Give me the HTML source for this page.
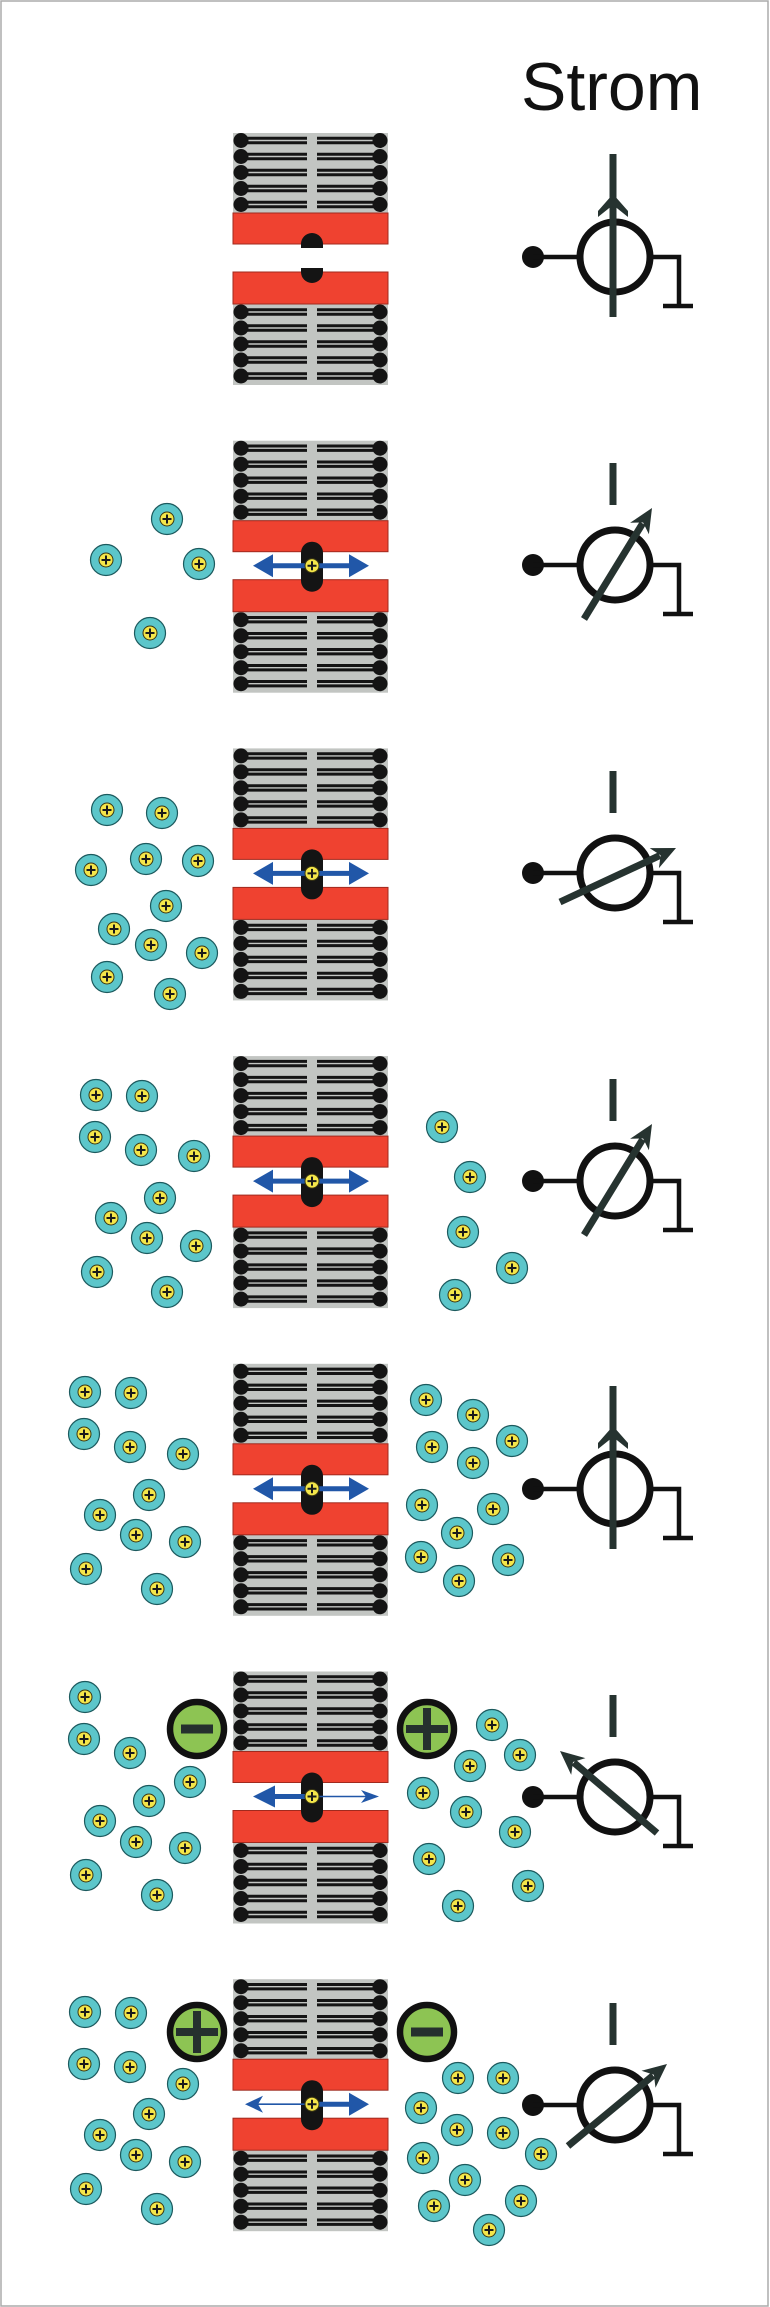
<!DOCTYPE html>
<html><head><meta charset="utf-8"><title>Strom</title>
<style>
html,body{margin:0;padding:0;background:#fff;}
svg{display:block;}
</style></head>
<body>
<svg xmlns="http://www.w3.org/2000/svg" xmlns:xlink="http://www.w3.org/1999/xlink" width="770" height="2307" viewBox="0 0 770 2307">
<defs>
  <g id="mem">
    <rect x="233" y="0" width="155" height="80" fill="#c2c5c2"/>
    <rect x="233" y="171" width="155" height="81" fill="#c2c5c2"/>
    <path fill="none" stroke="#141414" stroke-width="3" d="M241 5.3H307M317 5.3H380M241 9.7H307M317 9.7H380M241 21.3H307M317 21.3H380M241 25.7H307M317 25.7H380M241 37.3H307M317 37.3H380M241 41.7H307M317 41.7H380M241 53.3H307M317 53.3H380M241 57.7H307M317 57.7H380M241 69.3H307M317 69.3H380M241 73.7H307M317 73.7H380M241 176.8H307M317 176.8H380M241 181.2H307M317 181.2H380M241 192.8H307M317 192.8H380M241 197.2H307M317 197.2H380M241 208.8H307M317 208.8H380M241 213.2H307M317 213.2H380M241 224.8H307M317 224.8H380M241 229.2H307M317 229.2H380M241 240.8H307M317 240.8H380M241 245.2H307M317 245.2H380"/>
    <g fill="#141414">
      <circle cx="241" cy="7.5" r="7.5"/><circle cx="380" cy="7.5" r="7.5"/>
      <circle cx="241" cy="23.5" r="7.5"/><circle cx="380" cy="23.5" r="7.5"/>
      <circle cx="241" cy="39.5" r="7.5"/><circle cx="380" cy="39.5" r="7.5"/>
      <circle cx="241" cy="55.5" r="7.5"/><circle cx="380" cy="55.5" r="7.5"/>
      <circle cx="241" cy="71.5" r="7.5"/><circle cx="380" cy="71.5" r="7.5"/>
      <circle cx="241" cy="179" r="7.5"/><circle cx="380" cy="179" r="7.5"/>
      <circle cx="241" cy="195" r="7.5"/><circle cx="380" cy="195" r="7.5"/>
      <circle cx="241" cy="211" r="7.5"/><circle cx="380" cy="211" r="7.5"/>
      <circle cx="241" cy="227" r="7.5"/><circle cx="380" cy="227" r="7.5"/>
      <circle cx="241" cy="243" r="7.5"/><circle cx="380" cy="243" r="7.5"/>
    </g>
    <rect x="233" y="80" width="155" height="31" fill="#ef4230" stroke="#a02a1e" stroke-width="1"/>
    <rect x="233" y="139" width="155" height="32" fill="#ef4230" stroke="#a02a1e" stroke-width="1"/>
  </g>
  <g id="chion">
    <circle cx="0" cy="0" r="7" fill="#f4e64a" stroke="#3a3612" stroke-width="1"/>
    <path d="M-4.5 0H4.5M0 -4.5V4.5" stroke="#1a1a1a" stroke-width="2"/>
  </g>
  <g id="ion">
    <circle cx="0" cy="0" r="15.5" fill="#5cc6ca" stroke="#1c5a5e" stroke-width="1.2"/>
    <circle cx="0" cy="0" r="7" fill="#f4e64a" stroke="#3a3612" stroke-width="1"/>
    <path d="M-4.5 0H4.5M0 -4.5V4.5" stroke="#1a1a1a" stroke-width="2"/>
  </g>
  <rect id="pill" x="301" y="101" width="22" height="50" rx="11" ry="11" fill="#141414"/>
  <polygon id="darr" fill="#2157a8" points="253,125 273,113.5 273,122.5 349,122.5 349,113.5 369,125 349,136.5 349,127.5 273,127.5 273,136.5"/>
  <g id="sym" fill="none" stroke="#111">
    <circle cx="533" cy="0" r="11" fill="#111" stroke="none"/>
    <path d="M533 0H581" stroke-width="4.5"/>
    <circle cx="615" cy="0" r="35" stroke-width="7"/>
    <path d="M649 0H679V49M663 49H693" stroke-width="4.5"/>
  </g>
  <rect id="ibar" x="609.5" y="-102" width="7" height="42" fill="#263330"/>
  <g id="green">
    <circle cx="0" cy="0" r="27" fill="#8dc453" stroke="#111" stroke-width="6.5"/>
  </g>
</defs>

<rect x="1" y="1" width="767" height="2305" fill="none" stroke="#ababab" stroke-width="1.5"/>

<text x="521" y="110" font-family="Liberation Sans, Arial, sans-serif" font-size="68" fill="#111">Strom</text>

<!-- Panel 1 -->
<g transform="translate(0,133)">
  <use xlink:href="#mem"/>
  <rect x="301" y="100" width="22" height="50" rx="11" ry="11" fill="#141414"/>
  <rect x="299" y="115" width="26" height="20" fill="#fff"/>
</g>
<g transform="translate(0,257)">
  <use xlink:href="#sym"/>
  <rect x="609.5" y="-103" width="7" height="163" fill="#263330"/>
  <polygon points="613,-63 628,-46 628,-40 613,-52 598,-40 598,-46" fill="#263330"/>
</g>

<!-- Panel 2 -->
<g transform="translate(0,440.7)">
  <use xlink:href="#mem"/>
  <use xlink:href="#pill"/>
  <use xlink:href="#darr"/>
  <use xlink:href="#chion" x="312" y="125"/>
</g>
<g transform="translate(0,565)">
  <use xlink:href="#sym"/>
  <use xlink:href="#ibar"/>
  <path d="M584 54L642.6 -41.6" stroke="#263330" stroke-width="7"/>
  <polygon points="652,-57 648.9,-30.8 643.1,-42.5 630.1,-42.2" fill="#263330"/>
</g>
<use xlink:href="#ion" x="167" y="519"/>
<use xlink:href="#ion" x="106" y="560"/>
<use xlink:href="#ion" x="199" y="564"/>
<use xlink:href="#ion" x="150" y="633"/>

<!-- Panel 3 -->
<g transform="translate(0,748.4)">
  <use xlink:href="#mem"/>
  <use xlink:href="#pill"/>
  <use xlink:href="#darr"/>
  <use xlink:href="#chion" x="312" y="125"/>
</g>
<g transform="translate(0,873)">
  <use xlink:href="#sym"/>
  <use xlink:href="#ibar"/>
  <path d="M560 29L659.7 -17.4" stroke="#263330" stroke-width="7"/>
  <polygon points="676,-25 658.9,-4.9 660.6,-17.8 649.7,-24.9" fill="#263330"/>
</g>
<use xlink:href="#ion" x="107" y="810"/>
<use xlink:href="#ion" x="162" y="813"/>
<use xlink:href="#ion" x="91" y="870"/>
<use xlink:href="#ion" x="146" y="859"/>
<use xlink:href="#ion" x="198" y="861"/>
<use xlink:href="#ion" x="166" y="906"/>
<use xlink:href="#ion" x="114" y="929"/>
<use xlink:href="#ion" x="151" y="945"/>
<use xlink:href="#ion" x="202" y="953"/>
<use xlink:href="#ion" x="107" y="977"/>
<use xlink:href="#ion" x="170" y="994"/>

<!-- Panel 4 -->
<g transform="translate(0,1056.1)">
  <use xlink:href="#mem"/>
  <use xlink:href="#pill"/>
  <use xlink:href="#darr"/>
  <use xlink:href="#chion" x="312" y="125"/>
</g>
<g transform="translate(0,1181)">
  <use xlink:href="#sym"/>
  <use xlink:href="#ibar"/>
  <path d="M584 54L642.6 -41.6" stroke="#263330" stroke-width="7"/>
  <polygon points="652,-57 648.9,-30.8 643.1,-42.5 630.1,-42.2" fill="#263330"/>
</g>
<use xlink:href="#ion" x="96" y="1095"/>
<use xlink:href="#ion" x="142" y="1096"/>
<use xlink:href="#ion" x="95" y="1137"/>
<use xlink:href="#ion" x="141" y="1150"/>
<use xlink:href="#ion" x="194" y="1156"/>
<use xlink:href="#ion" x="160" y="1198"/>
<use xlink:href="#ion" x="111" y="1218"/>
<use xlink:href="#ion" x="147" y="1238"/>
<use xlink:href="#ion" x="196" y="1246"/>
<use xlink:href="#ion" x="97" y="1272"/>
<use xlink:href="#ion" x="167" y="1292"/>
<use xlink:href="#ion" x="442" y="1127"/>
<use xlink:href="#ion" x="470" y="1177"/>
<use xlink:href="#ion" x="463" y="1232"/>
<use xlink:href="#ion" x="512" y="1268"/>
<use xlink:href="#ion" x="455" y="1295"/>

<!-- Panel 5 -->
<g transform="translate(0,1363.8)">
  <use xlink:href="#mem"/>
  <use xlink:href="#pill"/>
  <use xlink:href="#darr"/>
  <use xlink:href="#chion" x="312" y="125"/>
</g>
<g transform="translate(0,1489)">
  <use xlink:href="#sym"/>
  <rect x="609.5" y="-103" width="7" height="163" fill="#263330"/>
  <polygon points="613,-63 628,-46 628,-40 613,-52 598,-40 598,-46" fill="#263330"/>
</g>
<use xlink:href="#ion" x="85" y="1392"/>
<use xlink:href="#ion" x="131" y="1393"/>
<use xlink:href="#ion" x="84" y="1434"/>
<use xlink:href="#ion" x="130" y="1447"/>
<use xlink:href="#ion" x="183" y="1454"/>
<use xlink:href="#ion" x="149" y="1495"/>
<use xlink:href="#ion" x="100" y="1515"/>
<use xlink:href="#ion" x="136" y="1535"/>
<use xlink:href="#ion" x="185" y="1542"/>
<use xlink:href="#ion" x="86" y="1569"/>
<use xlink:href="#ion" x="157" y="1589"/>
<use xlink:href="#ion" x="426" y="1400"/>
<use xlink:href="#ion" x="473" y="1415"/>
<use xlink:href="#ion" x="432" y="1447"/>
<use xlink:href="#ion" x="512" y="1441"/>
<use xlink:href="#ion" x="473" y="1463"/>
<use xlink:href="#ion" x="422" y="1505"/>
<use xlink:href="#ion" x="493" y="1509"/>
<use xlink:href="#ion" x="457" y="1533"/>
<use xlink:href="#ion" x="421" y="1557"/>
<use xlink:href="#ion" x="508" y="1560"/>
<use xlink:href="#ion" x="459" y="1581"/>

<!-- Panel 6 -->
<g transform="translate(0,1671.5)">
  <use xlink:href="#mem"/>
  <use xlink:href="#pill"/>
  <polygon fill="#2157a8" points="253,125 275,114 275,122.5 312,122.5 312,127.5 275,127.5 275,136"/>
  <path d="M312 125H367" stroke="#2157a8" stroke-width="1.6"/>
  <polygon fill="#2157a8" points="379,125 361,118.5 366,125 361,131.5"/>
  <use xlink:href="#chion" x="312" y="125"/>
</g>
<g transform="translate(0,1797)">
  <use xlink:href="#sym"/>
  <use xlink:href="#ibar"/>
  <path d="M657 36L573.8 -34.4" stroke="#263330" stroke-width="7"/>
  <polygon points="560,-46 585.4,-38.9 573,-35 571.2,-22.1" fill="#263330"/>
</g>
<use xlink:href="#green" x="197" y="1729"/>
<rect x="181" y="1724.5" width="32" height="9" fill="#25302e"/>
<use xlink:href="#green" x="427" y="1729"/>
<rect x="406" y="1725" width="42" height="8" fill="#25302e"/>
<rect x="423" y="1708" width="8" height="42" fill="#25302e"/>
<use xlink:href="#ion" x="85" y="1697"/>
<use xlink:href="#ion" x="84" y="1739"/>
<use xlink:href="#ion" x="130" y="1753"/>
<use xlink:href="#ion" x="190" y="1782"/>
<use xlink:href="#ion" x="149" y="1801"/>
<use xlink:href="#ion" x="100" y="1821"/>
<use xlink:href="#ion" x="136" y="1842"/>
<use xlink:href="#ion" x="185" y="1848"/>
<use xlink:href="#ion" x="86" y="1875"/>
<use xlink:href="#ion" x="157" y="1895"/>
<use xlink:href="#ion" x="492" y="1725"/>
<use xlink:href="#ion" x="520" y="1755"/>
<use xlink:href="#ion" x="470" y="1766"/>
<use xlink:href="#ion" x="423" y="1793"/>
<use xlink:href="#ion" x="466" y="1812"/>
<use xlink:href="#ion" x="515" y="1832"/>
<use xlink:href="#ion" x="429" y="1859"/>
<use xlink:href="#ion" x="528" y="1886"/>
<use xlink:href="#ion" x="458" y="1906"/>

<!-- Panel 7 -->
<g transform="translate(0,1979.2)">
  <use xlink:href="#mem"/>
  <use xlink:href="#pill"/>
  <path d="M255 125H312" stroke="#2157a8" stroke-width="1.6"/>
  <polygon fill="#2157a8" points="245,125 263,116.5 258,125 263,133.5"/>
  <polygon fill="#2157a8" points="312,122.5 349,122.5 349,113.5 369,125 349,136.5 349,127.5 312,127.5"/>
  <use xlink:href="#chion" x="312" y="125"/>
</g>
<g transform="translate(0,2105)">
  <use xlink:href="#sym"/>
  <use xlink:href="#ibar"/>
  <path d="M568 41L653.1 -29.5" stroke="#263330" stroke-width="7"/>
  <polygon points="667,-41 655.5,-17.2 653.9,-30.2 641.5,-34.2" fill="#263330"/>
</g>
<use xlink:href="#green" x="197" y="2032"/>
<rect x="176" y="2028" width="42" height="8" fill="#25302e"/>
<rect x="193" y="2011" width="8" height="42" fill="#25302e"/>
<use xlink:href="#green" x="427" y="2032"/>
<rect x="411" y="2027.5" width="32" height="9" fill="#25302e"/>
<use xlink:href="#ion" x="85" y="2012"/>
<use xlink:href="#ion" x="131" y="2013"/>
<use xlink:href="#ion" x="84" y="2064"/>
<use xlink:href="#ion" x="130" y="2067"/>
<use xlink:href="#ion" x="183" y="2084"/>
<use xlink:href="#ion" x="149" y="2114"/>
<use xlink:href="#ion" x="100" y="2135"/>
<use xlink:href="#ion" x="136" y="2155"/>
<use xlink:href="#ion" x="185" y="2162"/>
<use xlink:href="#ion" x="86" y="2189"/>
<use xlink:href="#ion" x="157" y="2209"/>
<use xlink:href="#ion" x="458" y="2078"/>
<use xlink:href="#ion" x="503" y="2078"/>
<use xlink:href="#ion" x="421" y="2108"/>
<use xlink:href="#ion" x="457" y="2130"/>
<use xlink:href="#ion" x="503" y="2133"/>
<use xlink:href="#ion" x="541" y="2154"/>
<use xlink:href="#ion" x="423" y="2158"/>
<use xlink:href="#ion" x="465" y="2180"/>
<use xlink:href="#ion" x="434" y="2206"/>
<use xlink:href="#ion" x="521" y="2201"/>
<use xlink:href="#ion" x="489" y="2230"/>
</svg>
</body></html>
